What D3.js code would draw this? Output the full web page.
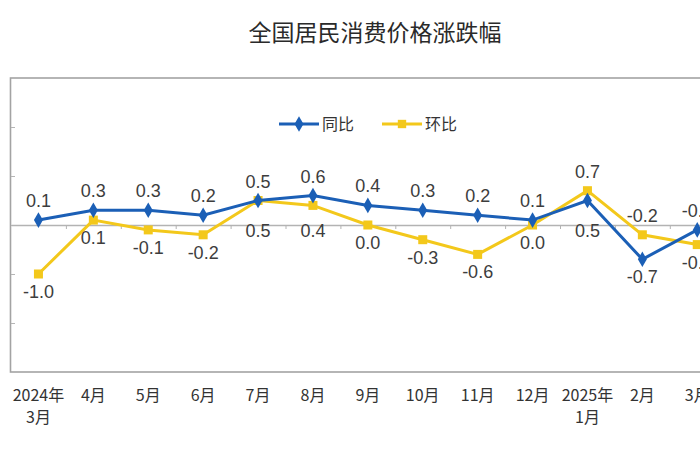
<!DOCTYPE html>
<html>
<head>
<meta charset="utf-8">
<script src="https://cdn.jsdelivr.net/npm/d3@7"></script>
<style>
  body { margin: 0; background: #fff; }
  svg { display: block; }
</style>
</head>
<body>
<svg width="700" height="470"></svg>
<script>
var months = [["2024年", "3月"], ["4月"], ["5月"], ["6月"], ["7月"], ["8月"], ["9月"],
              ["10月"], ["11月"], ["12月"], ["2025年", "1月"], ["2月"], ["3月"]];
var yoy = [0.1, 0.3, 0.3, 0.2, 0.5, 0.6, 0.4, 0.3, 0.2, 0.1, 0.5, -0.7, -0.1];   // 同比
var mom = [-1.0, 0.1, -0.1, -0.2, 0.5, 0.4, 0.0, -0.3, -0.6, 0.0, 0.7, -0.2, -0.4]; // 环比
var seriesNames = ["同比", "环比"];
var yTicks = [-2, -1, 0, 1, 2];

var svg = d3.select("svg"),
    plotLeft = 11, plotTop = 78, plotBottom = 372,
    plotRight = plotLeft + 13 * 54.9;   // plot runs past the right edge, as in the picture

var blue = "#1b5fb6", yellow = "#f3c81b";

var x = d3.scaleLinear().domain([-0.5, months.length - 0.5]).range([plotLeft, plotRight]);
var y = d3.scaleLinear().domain([-3, 3]).range([plotBottom, plotTop]);

// title
svg.append("text")
    .attr("x", 375).attr("y", 41)
    .attr("text-anchor", "middle")
    .style("font-family", "'Noto Sans CJK SC'")
    .style("font-size", "23px")
    .style("fill", "#2a2a2a")
    .text("全国居民消费价格涨跌幅");

// frame
svg.append("rect")
    .attr("x", plotLeft - 0.5).attr("y", plotTop)
    .attr("width", plotRight - plotLeft + 1).attr("height", plotBottom - plotTop)
    .attr("fill", "none")
    .attr("stroke", "#a3a3a3")
    .attr("stroke-width", 1.6);

// y ticks on the left border, no labels
var yAxis = svg.append("g")
    .attr("transform", "translate(" + plotLeft + ",0)")
    .call(d3.axisRight(y).tickValues(yTicks).tickSize(4).tickFormat(""));
yAxis.select(".domain").remove();
yAxis.selectAll("line").attr("stroke", "#b5b5b5");

// zero line with category ticks
var boundaries = d3.range(months.length - 1).map(function(i) { return i + 0.5; });
var xAxis = svg.append("g")
    .attr("transform", "translate(0," + y(0) + ")")
    .call(d3.axisBottom(x).tickValues(boundaries).tickSize(4).tickSizeOuter(0).tickFormat(""));
xAxis.select(".domain").attr("stroke", "#b3b3b3").attr("stroke-width", 1.6);
xAxis.selectAll("line").attr("stroke", "#b3b3b3");

// category labels below the frame
var cat = svg.append("g").selectAll("text")
    .data(months)
    .enter().append("text")
    .attr("text-anchor", "middle")
    .style("font-family", "'Noto Sans CJK SC'")
    .style("font-size", "16px")
    .style("fill", "#333");
cat.selectAll("tspan")
    .data(function(d, i) { return d.map(function(s) { return { s: s, i: i }; }); })
    .enter().append("tspan")
    .attr("x", function(d) { return x(d.i); })
    .attr("y", function(d, j) { return 401 + j * 22; })
    .text(function(d) { return d.s; });

var line = d3.line()
    .x(function(d, i) { return x(i); })
    .y(function(d) { return y(d); });

// 环比 drawn first, 同比 on top
svg.append("path")
    .datum(mom)
    .attr("d", line)
    .attr("fill", "none")
    .attr("stroke", yellow)
    .attr("stroke-width", 3);
svg.append("g").selectAll("rect")
    .data(mom)
    .enter().append("rect")
    .attr("x", function(d, i) { return x(i) - 4.5; })
    .attr("y", function(d) { return y(d) - 4.5; })
    .attr("width", 9).attr("height", 9)
    .attr("fill", yellow);

svg.append("path")
    .datum(yoy)
    .attr("d", line)
    .attr("fill", "none")
    .attr("stroke", blue)
    .attr("stroke-width", 3);
var diamond = d3.symbol().type(d3.symbolDiamond).size(70);
svg.append("g").selectAll("path")
    .data(yoy)
    .enter().append("path")
    .attr("d", diamond)
    .attr("transform", function(d, i) { return "translate(" + x(i) + "," + y(d) + ")"; })
    .attr("fill", blue);

// data labels: the higher series gets its label above, the lower one below
// (labels below never sit across the zero line)
function labelY(v, other, isYoy) {
    var above = isYoy ? v >= other : v > other;
    return above ? y(v) - 13 : Math.max(y(v) + 24, y(0) + 12);
}
function fmt(v) { return v.toFixed(1); }
function addLabels(values, others, isYoy) {
    svg.append("g").selectAll("text")
        .data(values)
        .enter().append("text")
        .attr("x", function(d, i) { return x(i); })
        .attr("y", function(d, i) { return labelY(d, others[i], isYoy); })
        .attr("text-anchor", "middle")
        .style("font-family", "'Liberation Sans', Arial, sans-serif")
        .style("font-size", "18px")
        .style("fill", "#3d3d3d")
        .text(function(d) { return fmt(d); });
}
addLabels(yoy, mom, true);
addLabels(mom, yoy, false);

// legend
var legend = svg.append("g").selectAll("g")
    .data(seriesNames)
    .enter().append("g")
    .attr("transform", function(d, i) { return "translate(" + (279 + i * 103) + ",124)"; });
legend.append("line")
    .attr("x1", 0).attr("x2", 40)
    .attr("stroke", function(d, i) { return i === 0 ? blue : yellow; })
    .attr("stroke-width", 3);
legend.append("path")
    .attr("d", function(d, i) {
        return i === 0 ? diamond() : d3.symbol().type(d3.symbolSquare).size(70)();
    })
    .attr("transform", "translate(20,0)")
    .attr("fill", function(d, i) { return i === 0 ? blue : yellow; });
legend.append("text")
    .attr("x", 43).attr("y", 6)
    .style("font-family", "'Noto Sans CJK SC'")
    .style("font-size", "16px")
    .style("fill", "#333")
    .text(function(d) { return d; });
</script>
</body>
</html>
